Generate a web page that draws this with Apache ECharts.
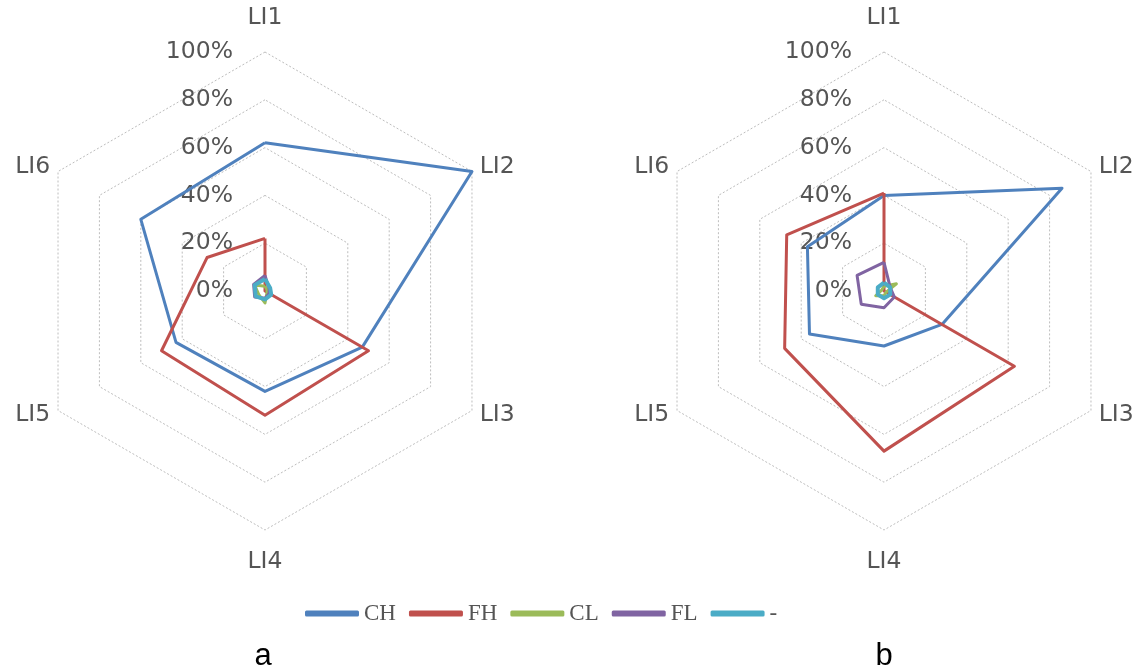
<!DOCTYPE html>
<html>
<head>
<meta charset="utf-8">
<script src="https://cdn.jsdelivr.net/npm/echarts@6/dist/echarts.min.js"></script>
<style>
html,body{margin:0;padding:0;background:#fff;}
#chart{width:1141px;height:672px;}
</style>
</head>
<body>
<div id="chart"></div>
<script>
// ---- data ----
const categories = ['LI1', 'LI2', 'LI3', 'LI4', 'LI5', 'LI6'];
const seriesNames = ['CH', 'FH', 'CL', 'FL', '-'];
const tickValues = [0, 20, 40, 60, 80, 100];
const panelLabels = ['a', 'b'];

// panel a
const a_CH = [62, 100, 47, 42, 43, 60];
const a_FH = [22, 0, 50, 52, 50, 28];
const a_CL = [2, 1, 1, 5, 3, 5];
const a_FL = [6.5, 2, 2, 3, 5, 5.5];
const a_dash = [5, 2.5, 3, 3.5, 4.5, 5];

// panel b
const b_CH = [40, 86, 28, 23, 36, 37];
const b_FH = [41, 0, 63, 67, 48, 47];
const b_CL = [2, 6, 1, 2, 4, 1];
const b_FL = [12, 3, 5, 7, 11, 13];
const b_dash = [3.5, 3, 3, 3, 3, 3];

const colors = ['#4F81BD', '#C0504D', '#9BBB59', '#8064A2', '#4BACC6'];

// ECharts lays indicators counter-clockwise; reorder to go clockwise
function cw(arr) { return [arr[0]].concat(arr.slice(1).reverse()); }

const nameGaps = { LI1: 22, LI2: 9, LI3: 9, LI4: 20, LI5: 9, LI6: 9 };

function indicators() {
  return cw(categories).map(function (c, i) {
    const ind = { name: c, min: tickValues[0], max: tickValues[tickValues.length - 1], nameGap: nameGaps[c] };
    if (i === 0) {
      ind.axisLabel = {
        show: true,
        formatter: '{value}%',
        fontSize: 23.5,
        color: '#555555',
        fontFamily: 'DejaVu Sans',
        margin: 32
      };
    }
    return ind;
  });
}

function radarCfg(cx) {
  return {
    center: [cx, 291],
    radius: 239,
    startAngle: 90,
    shape: 'polygon',
    splitNumber: tickValues.length - 1,
    indicator: indicators(),
    axisName: { color: '#555555', fontSize: 23.5, fontFamily: 'DejaVu Sans' },
    axisLine: { show: false },
    axisTick: { show: false },
    axisLabel: { show: false },
    splitArea: { show: false },
    splitLine: { lineStyle: { color: '#bdbdbd', type: [2, 2], width: 1 } }
  };
}

function seriesCfg(idx, arrays) {
  return {
    type: 'radar',
    radarIndex: idx,
    symbol: 'none',
    silent: true,
    data: arrays.map(function (arr, k) {
      return {
        name: seriesNames[k],
        value: cw(arr),
        lineStyle: { color: colors[k], width: k === 4 ? 4 : 3 },
        itemStyle: { color: colors[k] }
      };
    })
  };
}

const chart = echarts.init(document.getElementById('chart'));
chart.setOption({
  animation: false,
  backgroundColor: '#fff',
  radar: [radarCfg(265), radarCfg(884)],
  legend: {
    data: seriesNames,
    left: 300,
    top: 597,
    icon: 'roundRect',
    itemWidth: 54,
    itemHeight: 6,
    itemGap: 13,
    selectedMode: false,
    textStyle: { fontFamily: 'Liberation Serif', fontSize: 23, color: '#555555' }
  },
  graphic: [
    { type: 'text', x: 263, y: 656, style: { text: panelLabels[0], align: 'center', verticalAlign: 'middle', fontSize: 31, fill: '#000', fontFamily: 'Liberation Sans' } },
    { type: 'text', x: 884, y: 656, style: { text: panelLabels[1], align: 'center', verticalAlign: 'middle', fontSize: 31, fill: '#000', fontFamily: 'Liberation Sans' } }
  ],
  series: [
    seriesCfg(0, [a_CH, a_FH, a_CL, a_FL, a_dash]),
    seriesCfg(1, [b_CH, b_FH, b_CL, b_FL, b_dash])
  ]
});
</script>
</body>
</html>
